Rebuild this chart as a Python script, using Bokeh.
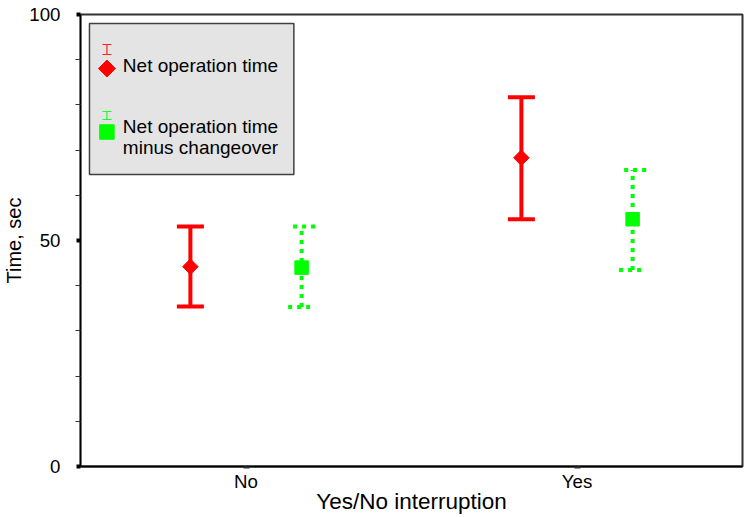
import numpy as np
from bokeh.plotting import figure
from bokeh.models import (ColumnDataSource, Whisker, TeeHead, FixedTicker, Range1d)
from bokeh.core.properties import value
from bokeh.embed import file_html
from bokeh.resources import INLINE

# ---- data ----
categories = ["No", "Yes"]
net_mean = [44.2, 68.3]
net_lower = [35.4, 54.7]
net_upper = [53.1, 81.7]
minus_mean = [44.0, 54.7]
minus_lower = [35.3, 43.5]
minus_upper = [53.1, 65.6]
series_names = ["Net operation time", "Net operation time\nminus changeover"]
y_ticks = [0, 50, 100]
y_minor = [10, 20, 30, 40, 60, 70, 80, 90]

FONT = "Liberation Sans"
RED = "#ff0000"
GREEN = "#00ff00"
OFFSET = 0.168

centers = [i + 0.5 for i in range(len(categories))]
src_net = ColumnDataSource(dict(x=[c - OFFSET for c in centers], mean=net_mean,
                                lo=net_lower, hi=net_upper))
src_minus = ColumnDataSource(dict(x=[c + OFFSET for c in centers], mean=minus_mean,
                                  lo=minus_lower, hi=minus_upper))

p = figure(width=744, height=517, output_backend="svg", toolbar_location=None,
           x_range=Range1d(0, len(categories)), y_range=Range1d(0, 100),
           min_border_left=78, min_border_right=2, min_border_top=14,
           min_border_bottom=51)
p.grid.visible = False
p.background_fill_color = "white"
p.border_fill_color = "white"
p.outline_line_color = "#333333"
p.outline_line_width = 2

# ---- axes ----
xa = p.xaxis[0]
xa.ticker = FixedTicker(ticks=centers)
xa.major_label_overrides = {c: name for c, name in zip(centers, categories)}
xa.axis_label = "Yes/No interruption"
xa.axis_line_color = "black"
xa.axis_line_width = 2
xa.major_tick_in = 0
xa.major_tick_out = 2
xa.major_tick_line_width = 6
xa.major_tick_line_color = "#333333"
xa.minor_tick_line_color = None
xa.major_label_standoff = 2
xa.axis_label_standoff = -6
xa.major_label_text_font = FONT
xa.major_label_text_font_size = "18.7px"
xa.major_label_text_color = "black"
xa.axis_label_text_font = FONT
xa.axis_label_text_font_size = "22.5px"
xa.axis_label_text_font_style = "normal"
xa.axis_label_text_color = "black"

ya = p.yaxis[0]
ya.ticker = FixedTicker(ticks=y_ticks, minor_ticks=y_minor)
ya.axis_label = "Time, sec"
ya.axis_line_color = "black"
ya.axis_line_width = 1.5
ya.major_tick_in = 0
ya.major_tick_out = 4
ya.major_tick_line_width = 4
ya.major_tick_line_color = "black"
ya.minor_tick_in = 0
ya.minor_tick_out = 5
ya.minor_tick_line_width = 1
ya.minor_tick_line_color = "#333333"
ya.major_label_standoff = 15
ya.axis_label_standoff = 1
ya.major_label_text_font = FONT
ya.major_label_text_font_size = "18.7px"
ya.major_label_text_color = "black"
ya.axis_label_text_font = FONT
ya.axis_label_text_font_size = "20px"
ya.axis_label_text_font_style = "normal"
ya.axis_label_text_color = "black"

# ---- error bars ----
w_net = Whisker(source=src_net, base="x", lower="lo", upper="hi", dimension="height",
                line_color=RED, line_width=4,
                upper_head=TeeHead(size=27, line_color=RED, line_width=4),
                lower_head=TeeHead(size=27, line_color=RED, line_width=4))
w_minus = Whisker(source=src_minus, base="x", lower="lo", upper="hi", dimension="height",
                  line_color=GREEN, line_width=4, line_dash="4 5",
                  upper_head=TeeHead(size=27, line_color=GREEN, line_width=4, line_dash="4 5"),
                  lower_head=TeeHead(size=27, line_color=GREEN, line_width=4, line_dash="4 5"))
p.add_layout(w_net)
p.add_layout(w_minus)

p.scatter(x="x", y="mean", source=src_net, marker="square", angle=np.pi / 4,
          size=11, fill_color=RED, line_color=RED)
p.scatter(x="x", y="mean", source=src_minus, marker="square", size=13.5,
          fill_color=GREEN, line_color=GREEN)

# ---- hand-drawn legend (SPSS style) in data coordinates ----
PX_X = len(categories) / 664.0   # data units per pixel (x)
PX_Y = 100.0 / 452.0             # data units per pixel (y)
FX0, FY0 = 78.0, 466.0           # frame origin in pixels


def dx(px):
    return (px - FX0) * PX_X


def dy(py):
    return (FY0 - py) * PX_Y


p.quad(left=[dx(87)], right=[dx(292)], top=[dy(23)], bottom=[dy(174)],
       fill_color="#e4e4e4", line_color="#404040", line_width=1.5)

# item 1 icon
ix = dx(104.5)
p.segment(x0=[ix], y0=[dy(44)], x1=[ix], y1=[dy(54)], line_color="#ff2020", line_width=1.2)
p.segment(x0=[ix - 4.5 * PX_X] * 2, y0=[dy(44), dy(54)], x1=[ix + 4.5 * PX_X] * 2,
          y1=[dy(44), dy(54)], line_color="#ff2020", line_width=1.2)
p.scatter(x=[ix], y=[dy(68)], marker="square", angle=np.pi / 4, size=12,
          fill_color=RED, line_color=RED)
# item 2 icon
p.segment(x0=[ix], y0=[dy(111)], x1=[ix], y1=[dy(119)], line_color="#20ff20", line_width=1.2)
p.segment(x0=[ix - 4.5 * PX_X] * 2, y0=[dy(111), dy(119)], x1=[ix + 4.5 * PX_X] * 2,
          y1=[dy(111), dy(119)], line_color="#20ff20", line_width=1.2)
p.scatter(x=[ix], y=[dy(131.5)], marker="square", size=14.5,
          fill_color=GREEN, line_color=GREEN)

lines = [series_names[0]] + series_names[1].split("\n")
p.text(x=[dx(120.5)] * 3, y=[dy(65), dy(126.3), dy(147.3)], text=lines,
       text_font=value(FONT), text_font_size="19px", text_color="black",
       text_baseline="alphabetic", text_align="left")

open("out.html", "w").write(file_html(p, INLINE))
